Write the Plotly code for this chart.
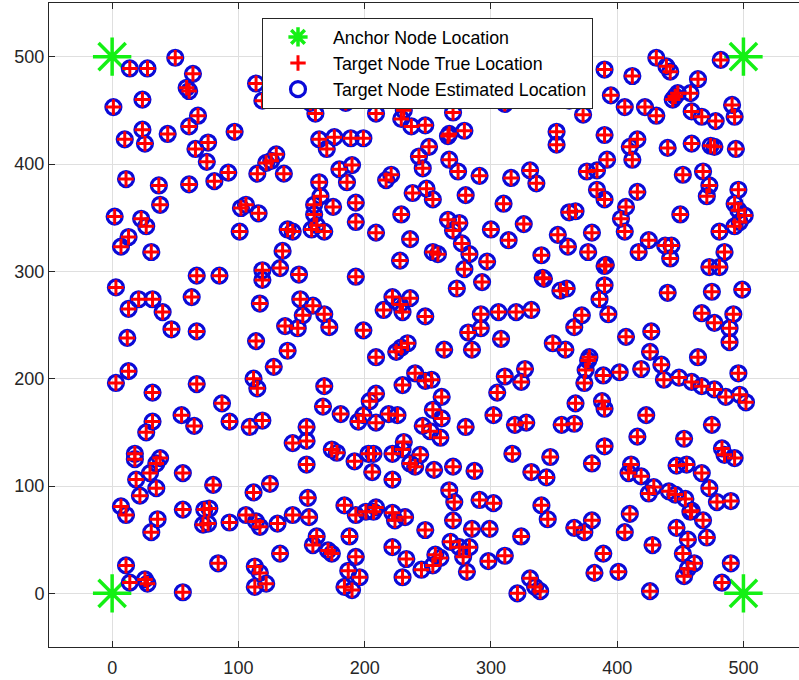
import plotly.graph_objects as go

# Anchor nodes at the four corners of the field
anchor_x = [0, 0, 500, 500]
anchor_y = [0, 500, 0, 500]

# Target nodes (x, y)
target_true = [
    (14,489),(28,489),(50,499),(64,484),(59,471),(61,468),(1,453),(24,460),(68,445),(61,435),
    (97,430),(10,423),(24,432),(26,419),(44,428),(66,414),(76,420),(75,402),(11,386),(37,380),
    (38,362),(61,381),(81,384),(92,392),(2,351),(102,359),(106,362),(23,349),(27,342),
    (114,475),(119,459),(132,460),(157,457),(161,447),(172,462),(185,457),(209,463),(209,447),
    (231,450),(229,442),(237,435),(248,436),(164,423),(170,414),(176,425),(189,424),(199,424),
    (243,407),(246,396),(122,401),(130,409),(115,391),(136,391),(126,403),(180,395),(190,399),
    (186,383),(164,383),(165,370),(160,362),(160,353),(175,360),(193,364),(193,346),(217,385),
    (221,390),(238,373),(229,353),(116,354),
    (262,464),(270,448),(279,431),(267,428),(266,426),(251,416),(267,404),(274,393),(291,389),
    (249,377),(254,367),(280,371),(266,348),(275,345),(311,456),(316,387),(331,394),(336,382),
    (310,363),(326,344),(362,459),(373,446),(352,430),(352,418),(376,393),(384,394),(392,404),
    (384,376),(390,367),(390,488),(395,464),(390,427),(362,355),(367,356),
    (431,499),(439,491),(442,486),(412,482),(482,497),(464,479),(406,453),(422,453),(431,445),
    (446,463),(448,466),(444,460),(458,466),(459,449),(467,444),(478,440),(491,455),(493,444),
    (416,423),(410,416),(412,404),(440,415),(459,419),(474,417),(477,416),(494,414),(452,390),
    (468,393),(473,380),(471,370),(496,376),(493,363),(496,357),(501,352),(497,346),(493,342),
    (416,374),(407,360),(403,349),(450,353),
    (13,332),(7,323),(31,318),(101,337),(67,296),(85,296),(3,285),(21,274),(32,274),(13,265),
    (63,276),(40,262),(47,246),(67,244),(12,238),(13,207),(3,196),(32,187),(67,195),(87,177),
    (93,160),(55,166),(65,156),(32,160),(27,150),
    (139,339),(143,337),(158,339),(162,343),(168,337),(209,336),(236,330),(228,310),(135,319),
    (119,301),(119,292),(133,303),(148,297),(193,295),(117,270),(149,274),(159,268),(168,260),
    (151,259),(137,249),(147,247),(172,248),(199,245),(114,235),(139,226),(128,211),(112,200),
    (115,191),(168,193),(167,174),(181,167),(199,166),(195,160),(209,186),(204,179),(219,167),
    (226,166),(209,159),(230,194),(240,205),(215,264),(222,276),(228,269),(236,275),(230,262),
    (209,220),(225,225),(234,233),(229,229),(119,161),(109,155),(154,155),
    (270,338),(300,339),(314,329),(254,318),(258,316),(277,326),(283,316),(297,309),(279,302),
    (293,290),(273,284),(248,258),(292,260),(292,247),(282,243),(306,262),(320,262),(332,264),
    (308,237),(263,227),(285,227),(340,315),(341,294),(342,293),(353,334),(361,323),(355,282),
    (360,284),(380,336),(377,318),(390,305),(391,306),(390,287),(386,274),(393,260),(372,259),
    (366,248),(349,233),(359,227),(375,208),(377,217),(378,220),(389,203),(374,196),(388,179),
    (390,172),(367,177),(356,157),(366,158),(311,202),(327,209),(324,197),(305,187),(302,166),
    (319,157),(328,159),(248,198),(253,199),(261,183),(254,171),(261,163),(280,155),(246,156),
    (252,151),(260,145),
    (406,337),(425,329),(417,318),(438,324),(443,324),(442,312),(481,337),(485,318),(473,304),
    (481,304),(440,280),(475,281),(499,283),(467,261),(477,252),(492,260),(489,247),(489,234),
    (427,244),(407,239),(464,220),(426,225),(402,206),(419,209),(435,213),(437,199),(449,201),
    (459,197),(467,193),(477,190),(486,183),(497,185),(502,178),(496,205),(423,166),(475,157),
    (18,130),(18,125),(38,126),(35,121),(30,112),(19,106),(35,98),(22,91),(56,112),(80,101),
    (7,81),(11,73),(36,69),(31,57),(56,78),(73,78),(77,79),(72,64),(76,65),(93,66),(11,26),
    (14,10),(26,13),(28,9),(56,1),(84,28),
    (143,140),(154,142),(154,120),(174,134),(178,131),(192,123),(203,130),(207,130),(206,113),
    (222,130),(222,106),(231,141),(230,134),(236,121),(240,118),(244,129),(125,102),(112,94),
    (155,89),(106,73),(114,67),(117,62),(131,65),(143,73),(156,71),(162,53),(159,45),(171,40),
    (174,37),(133,37),(184,82),(193,73),(201,76),(207,76),(209,80),(222,75),(232,71),(224,68),
    (188,53),(193,34),(187,21),(196,15),(184,6),(190,3),(113,25),(117,19),(113,6),(122,9),
    (222,43),(233,32),(230,15),(245,22),(248,59),
    (317,130),(347,127),(332,113),(344,108),(390,137),(380,121),(255,115),(270,118),(287,114),
    (267,96),(271,85),(291,87),(302,84),(270,68),(285,60),(299,60),(268,48),(275,43),(283,43),
    (278,34),(256,36),(260,33),(254,26),(281,20),(298,30),(311,35),(324,53),(340,82),(345,69),
    (331,14),(335,6),(339,2),(321,0),(366,61),(374,57),(380,68),(389,37),(382,19),(401,20),
    (416,146),(453,144),(483,135),(485,129),(493,126),(411,120),(409,112),(419,109),(429,99),
    (425,93),(441,95),(447,119),(455,120),(467,112),(446,92),(454,88),(473,98),(479,85),
    (490,86),(458,76),(459,77),(468,68),(471,52),(410,74),(406,57),(447,61),(456,50),(452,37),
    (461,28),(456,23),(453,16),(428,45),(426,2),(490,28),(483,10),
]

# Estimated positions coincide with the true ones at this noise level
target_est = list(target_true)

true_x = [p[0] for p in target_true]
true_y = [p[1] for p in target_true]
est_x = [p[0] for p in target_est]
est_y = [p[1] for p in target_est]

tick_vals = [0, 100, 200, 300, 400, 500]
tick_text = ["0", "100", "200", "300", "400", "500"]

FONT = "Liberation Sans, Arial, Helvetica, sans-serif"
AX = "#262626"

fig = go.Figure()

fig.add_trace(go.Scatter(
    x=anchor_x, y=anchor_y, mode="markers", name="Anchor Node Location",
    legendrank=1,
    marker=dict(symbol="asterisk-open", size=32, color="#14f014",
                line=dict(color="#14f014", width=3.5)),
))
fig.add_trace(go.Scatter(
    x=est_x, y=est_y, mode="markers", name="Target Node Estimated Location",
    legendrank=3,
    marker=dict(symbol="circle-open", size=15, color="#0a0ad8",
                line=dict(color="#0a0ad8", width=3.2)),
))
fig.add_trace(go.Scatter(
    x=true_x, y=true_y, mode="markers", name="Target Node True Location",
    legendrank=2,
    marker=dict(symbol="cross-thin-open", size=11, color="#ff0000",
                line=dict(color="#ff0000", width=3)),
))

fig.update_layout(
    width=799, height=680,
    margin=dict(l=49, r=0, t=3, b=33),
    paper_bgcolor="white", plot_bgcolor="white",
    font=dict(family=FONT, size=18, color=AX),
    showlegend=True,
    legend=dict(
        x=0.284, y=0.977, xanchor="left", yanchor="top",
        bgcolor="white", bordercolor=AX, borderwidth=1,
        font=dict(family=FONT, size=17.8, color="#000000"),
        itemwidth=60, tracegroupgap=0,
    ),
)

fig.update_xaxes(
    range=[-50, 544], tickvals=tick_vals, ticktext=tick_text,
    showgrid=True, gridcolor="#dfdfdf", gridwidth=1, zeroline=False,
    showline=True, linecolor=AX, linewidth=1, mirror="ticks",
    ticks="inside", ticklen=6, tickcolor=AX, ticklabelstandoff=4,
    tickfont=dict(family=FONT, size=18, color=AX),
)
fig.update_yaxes(
    range=[-50, 550], tickvals=tick_vals, ticktext=tick_text,
    showgrid=True, gridcolor="#dfdfdf", gridwidth=1, zeroline=False,
    showline=True, linecolor=AX, linewidth=1, mirror=False,
    ticks="inside", ticklen=6, tickcolor=AX,
    tickfont=dict(family=FONT, size=18, color=AX),
)

fig.write_html("out.html")
